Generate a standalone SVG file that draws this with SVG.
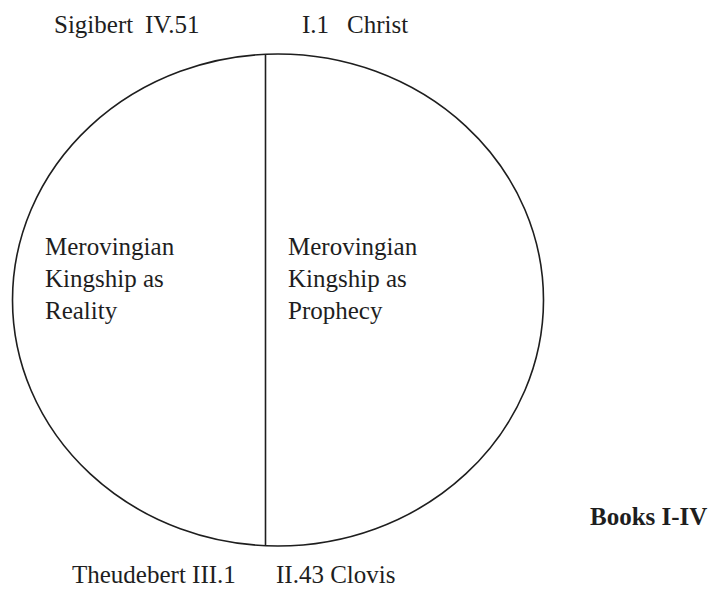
<svg xmlns="http://www.w3.org/2000/svg" width="712" height="592" viewBox="0 0 712 592">
<style>
  .t { font-family: "Liberation Serif", "Times New Roman", serif; font-size: 25px; fill: #1e1e1e; }
  .b { font-family: "Liberation Serif", "Times New Roman", serif; font-size: 25px; font-weight: bold; fill: #1e1e1e; }
  .ln { fill: none; stroke: #1e1e1e; stroke-width: 1.6; }
</style>
<rect width="712" height="592" fill="#ffffff"/>
<g id="circle">
  <ellipse class="ln" cx="278" cy="300" rx="265.5" ry="246"/>
</g>
<g id="connectors">
  <line class="ln" x1="265.5" y1="54" x2="265.5" y2="546"/>
</g>
<g id="top-labels">
  <text class="t" x="54" y="33">Sigibert<tspan x="145">IV.51</tspan></text>
  <text class="t" x="302" y="33">I.1<tspan x="347">Christ</tspan></text>
</g>
<g id="left-half">
  <text class="t" x="45" y="255">Merovingian</text>
  <text class="t" x="45" y="287">Kingship as</text>
  <text class="t" x="45" y="319">Reality</text>
</g>
<g id="right-half">
  <text class="t" x="288" y="255">Merovingian</text>
  <text class="t" x="288" y="287">Kingship as</text>
  <text class="t" x="288" y="319">Prophecy</text>
</g>
<g id="bottom-labels">
  <text class="t" x="72" y="583">Theudebert III.1</text>
  <text class="t" x="276" y="583">II.43 Clovis</text>
</g>
<g id="title">
  <text class="b" x="590" y="525">Books I-IV</text>
</g>
</svg>
